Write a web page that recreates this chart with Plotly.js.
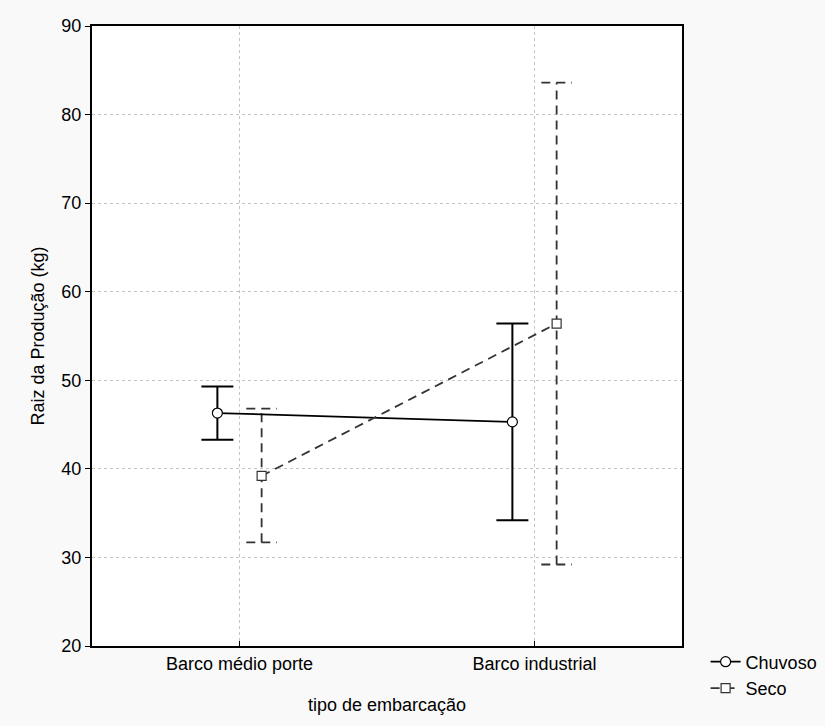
<!DOCTYPE html>
<html>
<head>
<meta charset="utf-8">
<script src="https://cdn.plot.ly/plotly-3.0.1.min.js"></script>
<style>html,body{margin:0;padding:0;background:#f9f9f9;}#chart{width:825px;height:726px;}</style>
</head>
<body>
<div id="chart"></div>
<script>
// ---- data ----
const categories = ["Barco médio porte", "Barco industrial"];
const seriesNames = ["Chuvoso", "Seco"];
const chuvosoMean = [46.3, 45.3];
const chuvosoErr = [3.0, 11.1];
const secoMean = [39.2, 56.4];
const secoErrPlus = [7.6, 27.2];
const secoErrMinus = [7.5, 27.2];
const yTicks = [20, 30, 40, 50, 60, 70, 80, 90];

// ---- style constants ----
const offset = 0.075;   // group offset within category (x units)
const capHalf = 0.052;  // cap half width (x units)
const idx = categories.map((c, i) => i);

const xChuv = idx.map(i => i - offset);
const xSeco = idx.map(i => i + offset);

// dashed whiskers for Seco built from the data arrays
const wx = [], wy = [];
idx.forEach(i => {
  const x = xSeco[i];
  const lo = secoMean[i] - secoErrMinus[i];
  const hi = secoMean[i] + secoErrPlus[i];
  wx.push(x, x, null, x - capHalf, x + capHalf, null, x - capHalf, x + capHalf, null);
  wy.push(lo, hi, null, hi, hi, null, lo, lo, null);
});

const traces = [
  {
    x: wx, y: wy, mode: 'lines', type: 'scatter', showlegend: false, hoverinfo: 'skip',
    line: {color: '#333333', width: 1.8, dash: '9px,6px'}
  },
  {
    name: seriesNames[0], x: xChuv, y: chuvosoMean, type: 'scatter', mode: 'lines+markers',
    line: {color: '#000000', width: 1.8},
    marker: {symbol: 'circle', size: 10, color: '#ffffff', line: {color: '#000000', width: 1.2}},
    error_y: {type: 'data', array: chuvosoErr, visible: true, color: '#000000', thickness: 2, width: 16}
  },
  {
    name: seriesNames[1], x: xSeco, y: secoMean, type: 'scatter', mode: 'lines+markers',
    line: {color: '#333333', width: 1.8, dash: '9px,6px'},
    marker: {symbol: 'square', size: 9, color: '#ffffff', line: {color: '#333333', width: 1.2}}
  }
];

const layout = {
  width: 825, height: 726,
  paper_bgcolor: '#f9f9f9', plot_bgcolor: '#ffffff',
  margin: {l: 92, r: 143, t: 26, b: 80, autoexpand: false},
  font: {family: 'Liberation Sans, Arial, sans-serif', size: 18, color: '#000000'},
  xaxis: {
    range: [-0.5, 1.5], tickvals: idx, ticktext: categories,
    showgrid: true, gridcolor: '#c4c4c4', griddash: 'dot', gridwidth: 1,
    showline: true, linecolor: '#000000', linewidth: 2, mirror: true,
    ticks: 'inside', ticklen: 5, tickcolor: '#000000', zeroline: false,
    tickfont: {size: 18},
    title: {text: 'tipo de embarcação', standoff: 26, font: {size: 18}}
  },
  yaxis: {
    range: [20, 90], tickvals: yTicks,
    showgrid: true, gridcolor: '#c4c4c4', griddash: 'dot', gridwidth: 1,
    showline: true, linecolor: '#000000', linewidth: 2, mirror: true,
    ticks: 'outside', ticklen: 5, tickcolor: '#000000', zeroline: false,
    tickfont: {size: 18},
    title: {text: 'Raiz da Produção (kg)', standoff: 12, font: {size: 18}}
  },
  legend: {x: 1.04, xanchor: 'left', y: 0.004, yanchor: 'top', bgcolor: 'rgba(0,0,0,0)',
           font: {size: 18}, tracegroupgap: 0, itemwidth: 30},
  showlegend: true
};

Plotly.newPlot('chart', traces, layout, {displayModeBar: false, staticPlot: true});
</script>
</body>
</html>
